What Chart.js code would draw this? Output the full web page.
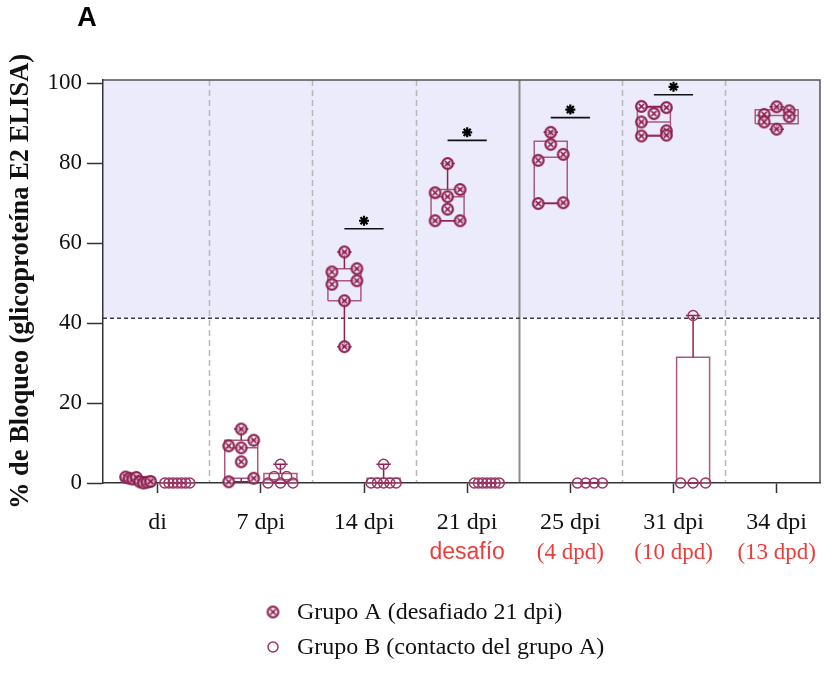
<!DOCTYPE html>
<html><head><meta charset="utf-8">
<script src="https://cdn.jsdelivr.net/npm/chart.js@4.4.1/dist/chart.umd.min.js"></script>
<style>html,body{margin:0;padding:0;background:#fff}</style>
</head><body>
<canvas id="c" width="837" height="677" style="width:837px;height:677px;display:block"></canvas>
<script>
// ---- data ----
const categories = ['di', '7 dpi', '14 dpi', '21 dpi', '25 dpi', '31 dpi', '34 dpi'];
const subLabels = ['', '', '', 'desafío', '(4 dpd)', '(10 dpd)', '(13 dpd)'];
const yTicks = [0, 20, 40, 60, 80, 100];
const groupA_di = [1.5, 1.2, 1.0, 1.4, 0.3, 0.0, 0.2, 0.4];
const groupA_7 = [13.5, 9.3, 8.8, 10.7, 5.3, 0.3, 1.2];
const groupA_14 = [57.8, 52.8, 53.6, 49.7, 50.6, 45.6, 34.1];
const groupA_21 = [79.9, 72.6, 71.6, 73.4, 68.5, 65.6, 65.6];
const groupA_25 = [87.7, 84.7, 80.7, 82.2, 69.9, 70.1];
const groupA_31 = [94.2, 92.4, 93.9, 90.3, 88.1, 86.8, 87.0];
const groupA_34 = [92.2, 94.1, 93.1, 88.5, 90.3, 91.6];
const groupB_di = [0, 0, 0, 0, 0, 0, 0];
const groupB_7 = [0, 1.6, 4.7, 0, 1.6, 0];
const groupB_14 = [0, 0, 4.7, 0, 0, 0];
const groupB_21 = [0, 0, 0, 0, 0, 0, 0];
const groupB_25 = [0, 0, 0, 0];
const groupB_31 = [0, 41.9, 0, 0];
const groupB_34 = null;
const groupA = [groupA_di, groupA_7, groupA_14, groupA_21, groupA_25, groupA_31, groupA_34];
const groupB = [groupB_di, groupB_7, groupB_14, groupB_21, groupB_25, groupB_31, groupB_34];
const sigCategories = [2, 3, 4, 5];
const sigHeights = [63.6, 85.7, 91.4, 97.1];
const threshold = 41.2;
const legendLabels = ['Grupo A (desafiado 21 dpi)', 'Grupo B (contacto del grupo A)'];
const yTitle = '% de Bloqueo (glicoproteína E2 ELISA)';
const solidSeparatorAfter = 3;

// ---- styles ----
const colA = '#8e2152';
const colBox = '#aa5a80';
const colB = '#9b3563';
const groupOffset = 0.19;
const boxHalf = 0.16;
const capHalf = 0.07;

function makeMarkerA(r) {
  const s = Math.round(2 * r + 4);
  const c = document.createElement('canvas');
  c.width = s; c.height = s;
  const g = c.getContext('2d');
  const m = s / 2;
  g.strokeStyle = colA; g.fillStyle = 'rgba(255,255,255,0.55)';
  g.lineWidth = 2.2;
  g.beginPath(); g.arc(m, m, r, 0, 2 * Math.PI); g.fill(); g.stroke();
  const d = r * 0.5;
  g.lineWidth = 1.6;
  g.beginPath();
  g.moveTo(m - d, m - d); g.lineTo(m + d, m + d);
  g.moveTo(m + d, m - d); g.lineTo(m - d, m + d);
  g.stroke();
  return c;
}
const markerA = makeMarkerA(5.3);

function quant(sorted, p) {
  const n = sorted.length;
  const pos = (n + 1) * p;
  if (pos <= 1) return sorted[0];
  if (pos >= n) return sorted[n - 1];
  const lo = Math.floor(pos), f = pos - lo;
  return sorted[lo - 1] + f * (sorted[lo] - sorted[lo - 1]);
}

function centerOf(i, isA) {
  if (isA) return groupB[i] ? i - groupOffset : i;
  return i + groupOffset;
}

const pointsA = [], pointsB = [], boxLines = [], whiskerLines = [], sigLines = [];
function addBox(vals, c, half) {
  const s = [...vals].sort((a, b) => a - b);
  const q1 = quant(s, 0.25), med = quant(s, 0.5), q3 = quant(s, 0.75);
  const mn = s[0], mx = s[s.length - 1];
  const gap = { x: c, y: null };
  boxLines.push({ x: c - half, y: q1 }, { x: c + half, y: q1 }, { x: c + half, y: q3 },
    { x: c - half, y: q3 }, { x: c - half, y: q1 }, gap,
    { x: c - half, y: med }, { x: c + half, y: med }, gap);
  whiskerLines.push({ x: c, y: q3 }, { x: c, y: mx }, gap, { x: c, y: q1 }, { x: c, y: mn }, gap,
    { x: c - capHalf, y: mx }, { x: c + capHalf, y: mx }, gap,
    { x: c - capHalf, y: mn }, { x: c + capHalf, y: mn }, gap);
}
groupA.forEach((vals, i) => {
  if (!vals) return;
  const c = centerOf(i, true);
  vals.forEach(v => pointsA.push({ x: c, y: v, c: c }));
  addBox(vals, c, groupB[i] ? boxHalf : boxHalf * 1.3);
});
groupB.forEach((vals, i) => {
  if (!vals) return;
  const c = centerOf(i, false);
  vals.forEach(v => pointsB.push({ x: c, y: v, c: c }));
  addBox(vals, c, boxHalf);
});
sigCategories.forEach((ci, k) => {
  sigLines.push({ x: ci - groupOffset, y: sigHeights[k] }, { x: ci + groupOffset, y: sigHeights[k] }, { x: ci, y: null });
});

const bgPlugin = {
  id: 'bg',
  beforeDraw(chart) {
    const { ctx, chartArea: { left, right, top, bottom }, scales: { x, y } } = chart;
    ctx.save();
    const ty = y.getPixelForValue(threshold);
    ctx.fillStyle = '#ebebfb';
    ctx.fillRect(left, top, right - left, ty - top);
    for (let i = 0; i < categories.length - 1; i++) {
      const px = Math.round(x.getPixelForValue(i + 0.5)) + 0.5;
      ctx.beginPath();
      if (i === solidSeparatorAfter) { ctx.setLineDash([]); ctx.strokeStyle = '#8c8c8c'; ctx.lineWidth = 2; }
      else { ctx.setLineDash([6, 4]); ctx.strokeStyle = '#b8b8b8'; ctx.lineWidth = 1.5; }
      ctx.moveTo(px, top); ctx.lineTo(px, bottom); ctx.stroke();
    }
    ctx.setLineDash([4, 3]); ctx.strokeStyle = '#3a3a4a'; ctx.lineWidth = 1.6;
    ctx.beginPath(); ctx.moveTo(left, ty); ctx.lineTo(right, ty); ctx.stroke();
    ctx.setLineDash([]); ctx.strokeStyle = '#555'; ctx.lineWidth = 1.5;
    ctx.beginPath(); ctx.moveTo(left, top); ctx.lineTo(right, top); ctx.lineTo(right, bottom); ctx.stroke();
    ctx.restore();
  },
  afterDraw(chart) {
    const { ctx, scales: { x, y } } = chart;
    ctx.save();
    // panel letter
    ctx.fillStyle = '#000'; ctx.font = 'bold 27px "Liberation Sans"';
    ctx.textAlign = 'center'; ctx.textBaseline = 'middle';
    ctx.fillText('A', 87, 19);
    // red sub labels
    ctx.fillStyle = '#ee3b3b';
    subLabels.forEach((t, i) => {
      if (!t) return;
      ctx.font = i === solidSeparatorAfter ? '23px "Liberation Sans"' : '23px "Liberation Serif"';
      ctx.fillText(t, x.getPixelForValue(i), 553);
    });
    // significance stars
    ctx.strokeStyle = '#000'; ctx.fillStyle = '#000'; ctx.lineWidth = 2.2;
    sigCategories.forEach((ci, k) => {
      Chart.helpers.drawPoint(ctx, { pointStyle: 'star', radius: 5, rotation: 0, borderWidth: 2.2 },
        x.getPixelForValue(ci), y.getPixelForValue(sigHeights[k]) - 8);
    });
    // legend
    const lx = 273, ly = [612, 647];
    ctx.font = '24px "Liberation Serif"'; ctx.textAlign = 'left';
    legendLabels.forEach((t, k) => {
      if (k === 0) ctx.drawImage(markerA, lx - markerA.width / 2, ly[k] - markerA.height / 2);
      else {
        ctx.strokeStyle = colB; ctx.lineWidth = 1.5;
        ctx.beginPath(); ctx.arc(lx, ly[k], 5, 0, 2 * Math.PI); ctx.stroke();
      }
      ctx.fillStyle = '#111';
      ctx.fillText(t, 297, ly[k] + 1);
    });
    ctx.restore();
  }
};

const chart = new Chart(document.getElementById('c'), {
  type: 'scatter',
  data: {
    datasets: [
      { label: legendLabels[0], data: pointsA, pointStyle: markerA, pointRadius: 5, clip: false, order: 0 },
      { label: legendLabels[1], data: pointsB, pointStyle: 'circle', pointRadius: 5, borderWidth: 1.5,
        borderColor: colB, backgroundColor: 'rgba(0,0,0,0)', clip: false, order: 0 },
      { label: 'whiskers', data: whiskerLines, showLine: true, pointRadius: 0, borderColor: colA, borderWidth: 1.5, clip: false, order: 1 },
      { label: 'boxes', data: boxLines, showLine: true, pointRadius: 0, borderColor: colBox, borderWidth: 1.5, clip: false, order: 2 },
      { label: 'sig', data: sigLines, showLine: true, pointRadius: 0, borderColor: '#111', borderWidth: 1.6, clip: false, order: 3 }
    ]
  },
  options: {
    responsive: false, animation: false, devicePixelRatio: 1,
    layout: { padding: { top: 80, right: 17, bottom: 134, left: 0 } },
    plugins: { legend: { display: false }, tooltip: { enabled: false } },
    scales: {
      x: {
        type: 'linear', min: -0.53, max: 6.42,
        afterBuildTicks: s => { s.ticks = categories.map((_, i) => ({ value: i })); },
        afterFit: s => { s.height = 60; },
        ticks: { callback: v => categories[v] ?? '', font: { family: 'Liberation Serif', size: 24 }, color: '#111', padding: 15, maxRotation: 0, autoSkip: false },
        grid: { drawOnChartArea: false, drawTicks: true, tickLength: 10, tickColor: '#333', tickWidth: 1.5 },
        border: { display: true, color: '#333', width: 1.5 }
      },
      y: {
        min: 0, max: 100.8,
        afterBuildTicks: s => { s.ticks = yTicks.map(v => ({ value: v })); },
        afterFit: s => { s.width = 103; },
        ticks: { font: { family: 'Liberation Serif', size: 23 }, color: '#111', padding: 5 },
        grid: { drawOnChartArea: false, drawTicks: true, tickLength: 16, tickColor: '#333', tickWidth: 1.5 },
        border: { display: true, color: '#333', width: 1.5 },
        title: { display: true, text: yTitle, font: { family: 'Liberation Serif', size: 26.5, weight: 'bold' }, color: '#111', padding: { top: 5, bottom: 0 } }
      }
    }
  },
  plugins: [bgPlugin]
});

// beeswarm spread computed with the chart's own scales
function spread(points) {
  const xs = chart.scales.x, ys = chart.scales.y;
  const byCenter = {};
  points.forEach((p, idx) => { (byCenter[p.c] = byCenter[p.c] || []).push(idx); });
  Object.values(byCenter).forEach(idxs => {
    const order = [...idxs].sort((a, b) => points[b].y - points[a].y || a - b);
    let clusters = [], cur = null, startPx = null;
    order.forEach(idx => {
      const py = ys.getPixelForValue(points[idx].y);
      if (cur && Math.abs(py - startPx) < 9.5) cur.push(idx);
      else { cur = [idx]; startPx = py; clusters.push(cur); }
    });
    clusters.forEach(cl => {
      cl.sort((a, b) => a - b);
      const k = cl.length;
      const step = k > 1 ? 25 / (k - 1) : 0;
      cl.forEach((idx, j) => {
        const off = (j - (k - 1) / 2) * step;
        const cpx = xs.getPixelForValue(points[idx].c);
        points[idx].x = xs.getValueForPixel(cpx + off);
      });
    });
  });
}
spread(pointsA);
spread(pointsB);
chart.update('none');
</script>
</body></html>
